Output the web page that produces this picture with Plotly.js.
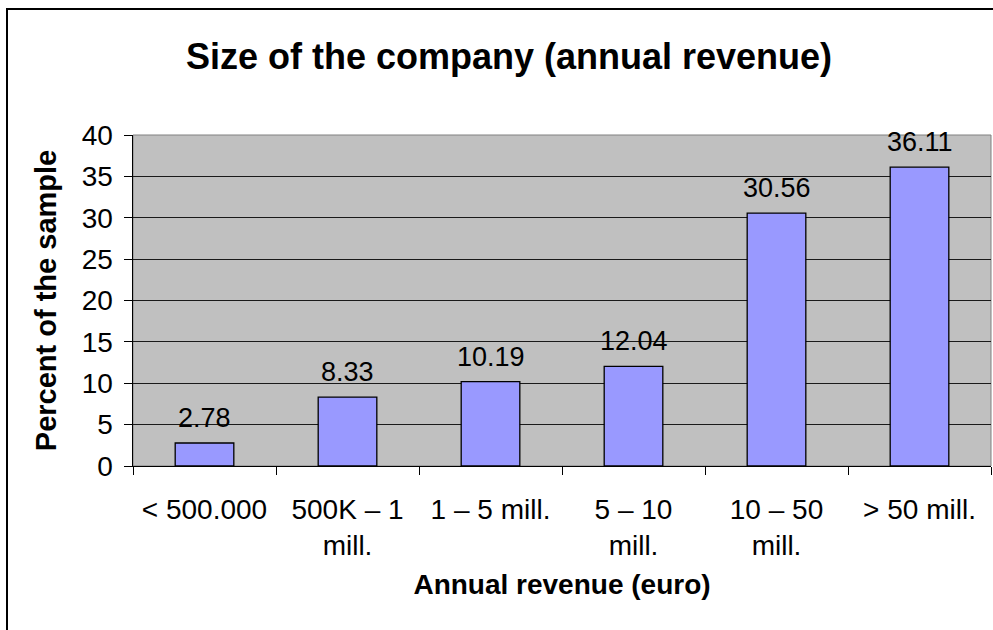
<!DOCTYPE html>
<html>
<head>
<meta charset="utf-8">
<script src="https://cdn.plot.ly/plotly-3.0.1.min.js"></script>
<style>
  html, body { margin: 0; padding: 0; background: #fff; overflow: hidden; }
  #chart { width: 993px; height: 630px; position: absolute; left: 0; top: 0; }
  #frame { position: absolute; left: 6px; top: 8px; width: 1100px; height: 800px;
           border-left: 2px solid #000; border-top: 2px solid #000; pointer-events: none; }
</style>
</head>
<body>
<div id="chart"></div>
<div id="frame"></div>
<script>
const categories = ["< 500.000", "500K – 1<br>mill.", "1 – 5 mill.", "5 – 10<br>mill.", "10 – 50<br>mill.", "> 50 mill."];
const percents = [2.78, 8.33, 10.19, 12.04, 30.56, 36.11];
const labels = ["2.78", "8.33", "10.19", "12.04", "30.56", "36.11"];

const FONT = "Liberation Sans, Arial, sans-serif";

const trace = {
  type: "bar",
  x: categories,
  y: percents,
  marker: { color: "#9999FF", line: { color: "#000000", width: 1.3 } },
  width: 0.41,
  hoverinfo: "none"
};

const annotations = categories.map((c, i) => ({
  x: c, y: percents[i], xref: "x", yref: "y",
  text: labels[i], showarrow: false,
  yanchor: "bottom", yshift: 8,
  font: { family: FONT, size: 27, color: "#000" }
}));

const layout = {
  width: 993, height: 630,
  margin: { l: 133, r: 2, t: 135, b: 164 },
  paper_bgcolor: "#ffffff",
  plot_bgcolor: "#C0C0C0",
  showlegend: false,
  title: {
    text: "<b>Size of the company (annual revenue)</b>",
    font: { family: FONT, size: 36, color: "#000" },
    x: 509 / 993, xanchor: "center", xref: "container",
    y: 1 - 56 / 630, yanchor: "middle", yref: "container"
  },
  xaxis: {
    type: "category",
    tickson: "boundaries",
    ticks: "outside", ticklen: 8, tickcolor: "#000", tickwidth: 1,
    showline: true, linecolor: "#000", linewidth: 1,
    showgrid: false,
    tickfont: { family: FONT, size: 28, color: "#000" },
    ticklabelstandoff: 18,
    title: { text: "<b>Annual revenue (euro)</b>", font: { family: FONT, size: 28, color: "#000" }, standoff: 14 },
    fixedrange: true
  },
  yaxis: {
    range: [0, 40], dtick: 5, tick0: 0,
    ticks: "outside", ticklen: 8, tickcolor: "#000", tickwidth: 1,
    showline: true, linecolor: "#000", linewidth: 1.5,
    showgrid: true, gridcolor: "#1a1a1a", gridwidth: 1,
    zeroline: false,
    tickfont: { family: FONT, size: 28, color: "#000" },
    ticklabelstandoff: 5,
    title: { text: "<b>Percent of the sample</b>", font: { family: FONT, size: 29, color: "#000" }, standoff: 16 },
    fixedrange: true
  },
  annotations: annotations,
  shapes: [{
    type: "rect", xref: "paper", yref: "paper", x0: 0, x1: 1, y0: 0, y1: 1,
    line: { color: "#808080", width: 1 }, layer: "below"
  }]
};

Plotly.newPlot("chart", [trace], layout, { staticPlot: true, displayModeBar: false });
</script>
</body>
</html>
